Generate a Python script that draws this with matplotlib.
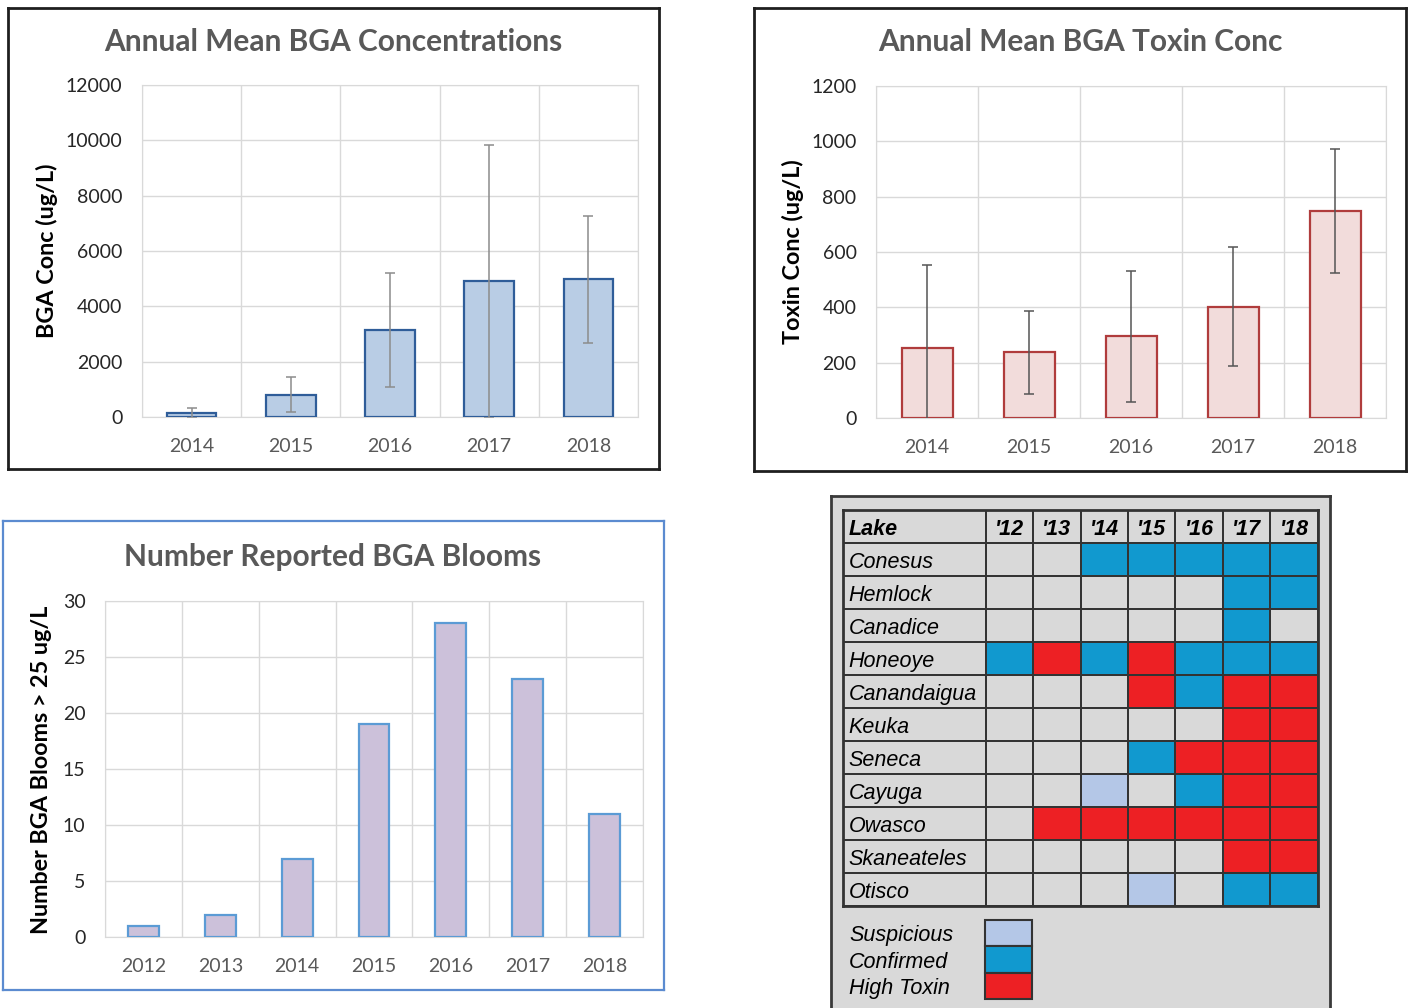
import matplotlib
matplotlib.use("Agg")
import numpy as np
import matplotlib.pyplot as plt
from matplotlib.colors import ListedColormap
from matplotlib.patches import Rectangle

# -------------------------------------------------
# DATA
# -------------------------------------------------
conc_years = ["2014", "2015", "2016", "2017", "2018"]
bga_mean = [150, 800, 3150, 4900, 4980]
bga_err = [175, 630, 2070, 4930, 2290]

toxin_mean = [252, 237, 296, 403, 748]
toxin_err = [300, 149, 237, 214, 225]

bloom_years = ["2012", "2013", "2014", "2015", "2016", "2017", "2018"]
bloom_counts = [1, 2, 7, 19, 28, 23, 11]

lakes = ["Conesus", "Hemlock", "Canadice", "Honeoye", "Canandaigua", "Keuka",
         "Seneca", "Cayuga", "Owasco", "Skaneateles", "Otisco"]
year_cols = ["'12", "'13", "'14", "'15", "'16", "'17", "'18"]
# 0 = none, 1 = suspicious, 2 = confirmed, 3 = high toxin
lake_status = [
    [0, 0, 2, 2, 2, 2, 2],
    [0, 0, 0, 0, 0, 2, 2],
    [0, 0, 0, 0, 0, 2, 0],
    [2, 3, 2, 3, 2, 2, 2],
    [0, 0, 0, 3, 2, 3, 3],
    [0, 0, 0, 0, 0, 3, 3],
    [0, 0, 0, 2, 3, 3, 3],
    [0, 0, 1, 0, 2, 3, 3],
    [0, 3, 3, 3, 3, 3, 3],
    [0, 0, 0, 0, 0, 3, 3],
    [0, 0, 0, 1, 0, 2, 2],
]
status_names = ["Suspicious", "Confirmed", "High Toxin"]
status_colors = ["#d9d9d9", "#b4c7e7", "#1199cf", "#ed2024"]

# -------------------------------------------------
# LAYOUT HELPERS (pixel boxes on a 1416 x 1008 canvas)
# -------------------------------------------------
W, H = 1416, 1008
CHART_FONT = ["Lato", "DejaVu Sans"]
TABLE_FONT = ["Liberation Sans", "DejaVu Sans"]
GRID = "#d9d9d9"
TICK = "#595959"
LINE = "#333333"

fig = plt.figure(figsize=(W / 100, H / 100), dpi=100)
fig.patch.set_facecolor("white")


def px_axes(x0, y0, x1, y1, **kw):
    return fig.add_axes([x0 / W, 1 - y1 / H, (x1 - x0) / W, (y1 - y0) / H], **kw)


def frame(x0, y0, x1, y1, color, lw, face="white"):
    ax = px_axes(x0, y0, x1, y1)
    ax.set_facecolor(face)
    ax.set_xticks([])
    ax.set_yticks([])
    for s in ax.spines.values():
        s.set_color(color)
        s.set_linewidth(lw)
    ax.set_zorder(0)
    return ax


def bar_chart(box, cats, vals, ymax, ystep, width, face, edge,
              err=None, err_color=None):
    ax = px_axes(*box)
    ax.set_zorder(1)
    x = np.arange(len(cats))
    ax.bar(x, vals, width=width, color=face, edgecolor=edge, linewidth=1.6, zorder=3)
    if err is not None:
        ax.errorbar(x, vals, yerr=err, fmt="none", ecolor=err_color,
                    elinewidth=1.1, capsize=3.5, capthick=1.1, zorder=4)
    ax.set_xlim(-0.5, len(cats) - 0.5)
    ax.set_ylim(0, ymax)
    ax.set_yticks(np.arange(0, ymax + 1, ystep))
    ax.set_xticks(x)
    ax.set_xticklabels(cats)
    ax.set_xticks(np.arange(len(cats) + 1) - 0.5, minor=True)
    ax.grid(True, axis="y", color=GRID, linewidth=1, zorder=0)
    ax.grid(True, axis="x", which="minor", color=GRID, linewidth=1, zorder=0)
    ax.tick_params(which="both", length=0, labelsize=14)
    ax.tick_params(axis="x", labelcolor=TICK, pad=15)
    ax.tick_params(axis="y", labelcolor="#262626", pad=14)
    for lab in ax.get_xticklabels() + ax.get_yticklabels():
        lab.set_family(CHART_FONT)
    for s in ax.spines.values():
        s.set_color(GRID)
    return ax


def title(x, y, text):
    fig.text(x / W, 1 - y / H, text, ha="center", va="center", fontsize=21.5,
             fontweight="bold", color=TICK, family=CHART_FONT)


def ylabel(x, y, text):
    fig.text(x / W, 1 - y / H, text, ha="center", va="center", rotation=90,
             fontsize=16.8, fontweight="bold", color="black", family=CHART_FONT)


# -------------------------------------------------
# ANNUAL MEAN BGA CONCENTRATIONS
# -------------------------------------------------
frame(8, 8, 659, 469, "#1f1f1f", 2)
bar_chart((142, 85, 638, 417), conc_years, bga_mean, 12000, 2000, 0.5,
          "#b9cde5", "#2f5d99", err=bga_err, err_color="#8c8c8c")
title(333, 42, "Annual Mean BGA Concentrations")
ylabel(47, 251, "BGA Conc (ug/L)")

# -------------------------------------------------
# ANNUAL MEAN BGA TOXIN CONC
# -------------------------------------------------
frame(754, 8, 1406, 471, "#1f1f1f", 2)
bar_chart((876, 86, 1386, 418), conc_years, toxin_mean, 1200, 200, 0.5,
          "#f2dcdb", "#b03c3c", err=toxin_err, err_color="#555555")
title(1080, 42, "Annual Mean BGA Toxin Conc")
ylabel(793, 252, "Toxin Conc (ug/L)")

# -------------------------------------------------
# NUMBER REPORTED BGA BLOOMS
# -------------------------------------------------
frame(3, 521, 664, 990, "#5b8bd0", 1.6)
bar_chart((105, 601, 643, 937), bloom_years, bloom_counts, 30, 5, 0.4,
          "#ccc1da", "#5b9bd5")
title(333, 557, "Number Reported BGA Blooms")
ylabel(42, 770, "Number BGA Blooms > 25 ug/L")

# -------------------------------------------------
# LAKE STATUS TABLE
# -------------------------------------------------
panel = frame(831, 496, 1330, 1012, "#3a3a3a", 2, face="#d9d9d9")
panel.spines["bottom"].set_visible(False)
panel.set_xlim(831, 1330)
panel.set_ylim(1012, 496)

tab = px_axes(843, 510, 1318, 906)
tab.set_zorder(1)
grid_vals = np.zeros((len(lakes) + 1, len(year_cols) + 1))
grid_vals[1:, 1:] = np.array(lake_status)
x_edges = np.concatenate([[0], np.arange(3, 3 + len(year_cols) + 1)])
y_edges = np.arange(len(lakes) + 2)
tab.pcolormesh(x_edges, y_edges, grid_vals, cmap=ListedColormap(status_colors),
               vmin=-0.5, vmax=3.5, edgecolors=LINE, linewidth=1.4)
tab.set_xlim(0, x_edges[-1])
tab.set_ylim(y_edges[-1], 0)
tab.set_xticks([])
tab.set_yticks([])
for s in tab.spines.values():
    s.set_color(LINE)
    s.set_linewidth(2)

tab.text(0.12, 0.58, "Lake", ha="left", va="center", fontsize=15.5,
         fontweight="bold", style="italic", family=TABLE_FONT)
for j, yr in enumerate(year_cols):
    tab.text(3.5 + j, 0.58, yr, ha="center", va="center", fontsize=15.5,
             fontweight="bold", style="italic", family=TABLE_FONT)
for i, lake in enumerate(lakes):
    tab.text(0.12, i + 1.58, lake, ha="left", va="center", fontsize=15.5,
             style="italic", family=TABLE_FONT)

# legend key below the table
for k, name in enumerate(status_names):
    yc = 933 + k * 26.5
    panel.add_patch(Rectangle((985, yc - 13.2), 47, 26.4,
                              facecolor=status_colors[k + 1],
                              edgecolor=LINE, linewidth=1.5))
    panel.text(849, yc + 2.5, name, ha="left", va="center", fontsize=15.5,
               style="italic", family=TABLE_FONT)

plt.savefig("out.png", dpi=100)
